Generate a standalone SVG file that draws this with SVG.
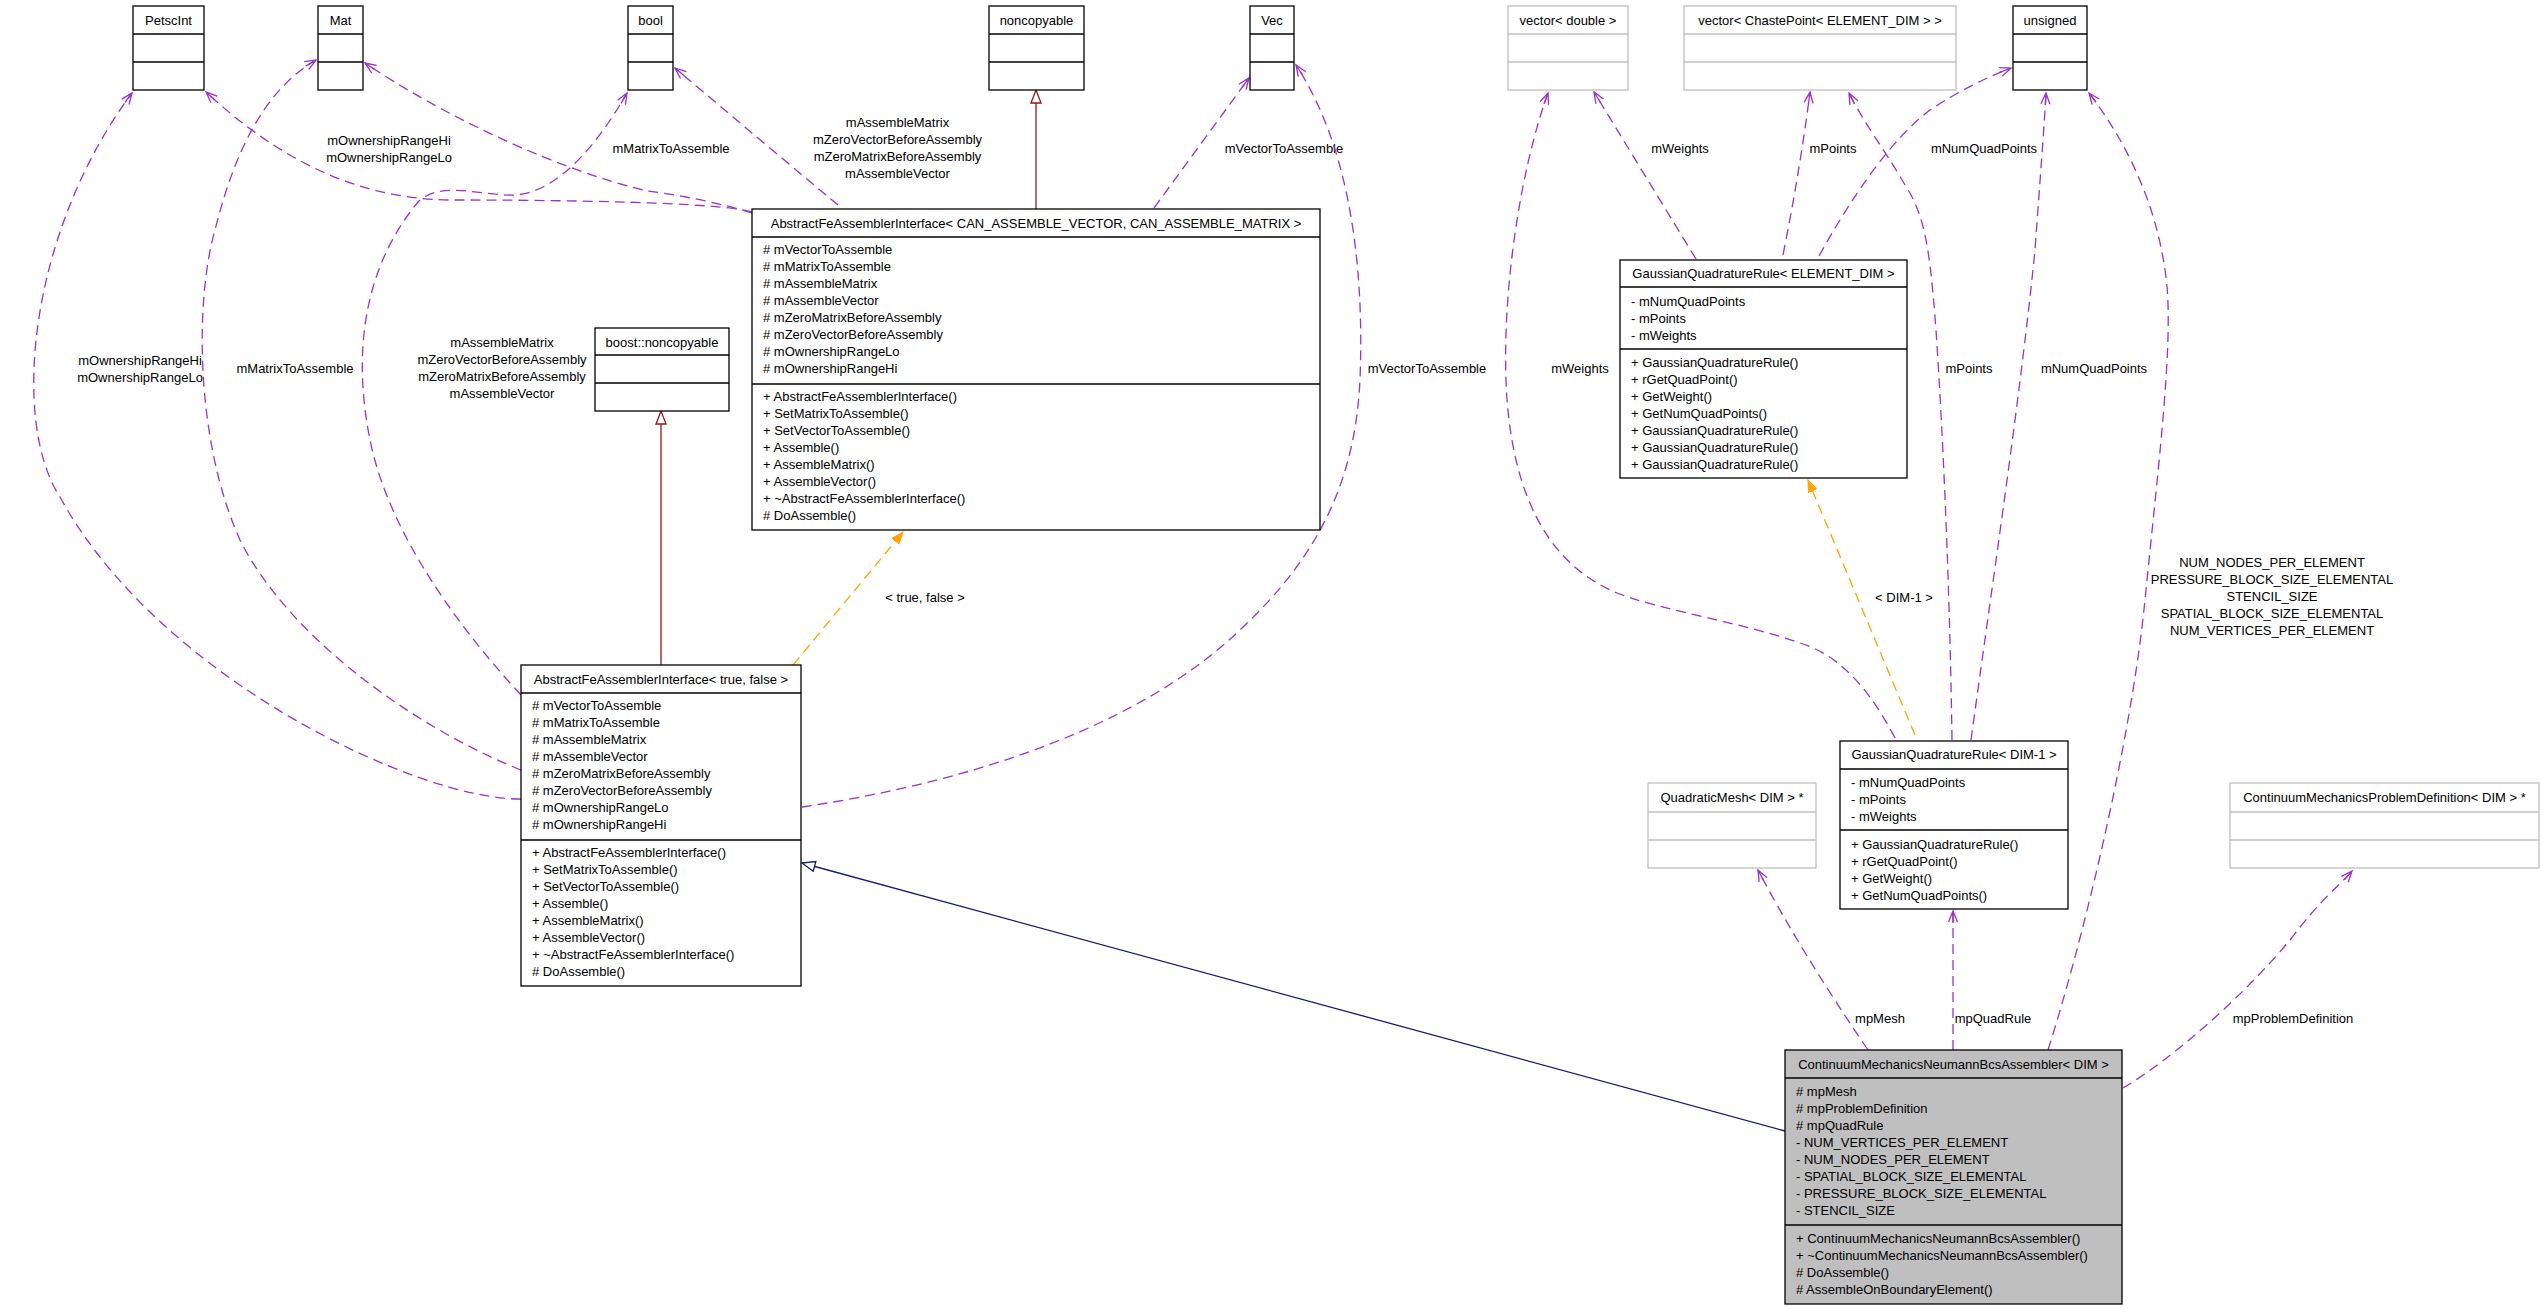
<svg xmlns="http://www.w3.org/2000/svg" width="2543" height="1309" viewBox="0 0 2543 1309">
<style>
text{font-family:"Liberation Sans",Arial,sans-serif;font-size:13px;fill:#000}
.t{text-anchor:middle}
.box{fill:#fff;stroke:#000;stroke-width:1.3}
.gbox{fill:#fff;stroke:#bfbfbf;stroke-width:1.3}
.sbox{fill:#bfbfbf;stroke:#000;stroke-width:1.3}
.div{stroke:#000;stroke-width:1.3}
.gdiv{stroke:#bfbfbf;stroke-width:1.3}
.use{fill:none;stroke:#9a32cd;stroke-width:1.3;stroke-dasharray:10,6;marker-end:url(#open)}
.tpl{fill:none;stroke:#ffa500;stroke-width:1.3;stroke-dasharray:10,6;marker-end:url(#filled)}
.inhB{fill:none;stroke:#191970;stroke-width:1.3;marker-end:url(#triB)}
.inhR{fill:none;stroke:#8b1a1a;stroke-width:1.3;marker-end:url(#triR)}
</style>
<defs>
<marker id="open" markerUnits="userSpaceOnUse" markerWidth="14" markerHeight="12" refX="12" refY="5.5" orient="auto"><path d="M1,1 L12,5.5 L1,10 M0,5.5 L12,5.5" fill="none" stroke="#9a32cd" stroke-width="1.3"/></marker>
<marker id="filled" markerUnits="userSpaceOnUse" markerWidth="14" markerHeight="12" refX="12" refY="5.5" orient="auto"><path d="M0,1 L12,5.5 L0,10 Z" fill="#ffa500" stroke="#ffa500" stroke-width="1"/></marker>
<marker id="triB" markerUnits="userSpaceOnUse" markerWidth="16" markerHeight="14" refX="14" refY="6.5" orient="auto"><path d="M1,1.5 L14,6.5 L1,11.5 Z" fill="#fff" stroke="#191970" stroke-width="1.3"/></marker>
<marker id="triR" markerUnits="userSpaceOnUse" markerWidth="16" markerHeight="14" refX="14" refY="6.5" orient="auto"><path d="M1,1.5 L14,6.5 L1,11.5 Z" fill="#fff" stroke="#8b1a1a" stroke-width="1.3"/></marker>
</defs>
<rect width="2543" height="1309" fill="#fff"/>

<g id="connectors">
<!-- Main -> PetscInt -->
<path class="use" d="M752,212 C720,202 560,200 450,200 C370,199 290,170 206,92"/>
<text class="t" x="389" y="144.5">mOwnershipRangeHi</text>
<text class="t" x="389" y="161.5">mOwnershipRangeLo</text>
<!-- Main -> Mat -->
<path class="use" d="M752,213 C720,203 680,195 647,191 C560,170 450,120 365,63"/>
<text class="t" x="671" y="152.5">mMatrixToAssemble</text>
<!-- Main -> bool -->
<path class="use" d="M838,205 Q760,140 675,68"/>
<text class="t" x="897.5" y="127">mAssembleMatrix</text>
<text class="t" x="897.5" y="144">mZeroVectorBeforeAssembly</text>
<text class="t" x="897.5" y="161">mZeroMatrixBeforeAssembly</text>
<text class="t" x="897.5" y="178">mAssembleVector</text>
<!-- Main -> noncopyable -->
<path class="inhR" d="M1036,209 L1036,90"/>
<!-- Main -> Vec -->
<path class="use" d="M1154,208 L1249,78"/>
<text class="t" x="1284" y="152.5">mVectorToAssemble</text>

<!-- AFAI<true,false> -> PetscInt -->
<path class="use" d="M521,799 C420,800 160,680 60,497 C10,420 30,230 132,93"/>
<text class="t" x="140" y="364.5">mOwnershipRangeHi</text>
<text class="t" x="140" y="381.5">mOwnershipRangeLo</text>
<!-- AFAI<true,false> -> Mat -->
<path class="use" d="M521,770 C420,730 290,640 240,540 C195,440 195,300 215,230 C235,150 265,90 316,60"/>
<text class="t" x="295" y="372.5">mMatrixToAssemble</text>
<!-- AFAI<true,false> -> bool -->
<path class="use" d="M521,695 C470,640 390,540 370,440 C350,340 370,260 418,202 C440,180 480,196 515,195 C560,192 600,140 627,93"/>
<text class="t" x="502" y="346.5">mAssembleMatrix</text>
<text class="t" x="502" y="363.5">mZeroVectorBeforeAssembly</text>
<text class="t" x="502" y="380.5">mZeroMatrixBeforeAssembly</text>
<text class="t" x="502" y="397.5">mAssembleVector</text>
<!-- AFAI<true,false> -> Vec -->
<path class="use" d="M802,807 C950,785 1130,735 1240,630 C1320,555 1355,480 1360,380 C1365,250 1345,140 1296,65"/>
<text class="t" x="1427" y="372.5">mVectorToAssemble</text>
<!-- AFAI<true,false> -> AFAI template -->
<path class="tpl" d="M793,665 L903,532"/>
<text class="t" x="925" y="601.5">&lt; true, false &gt;</text>
<!-- AFAI<true,false> -> boost::noncopyable -->
<path class="inhR" d="M661,665 L661,411"/>

<!-- GQR<ELEMENT_DIM> -> vector<double> -->
<path class="use" d="M1696,259 L1594,92"/>
<text class="t" x="1680" y="152.5">mWeights</text>
<!-- GQR<ELEMENT_DIM> -> vector<ChastePoint> -->
<path class="use" d="M1783,255 Q1800,170 1810,92"/>
<text class="t" x="1833" y="152.5">mPoints</text>
<!-- GQR<ELEMENT_DIM> -> unsigned -->
<path class="use" d="M1819,256 C1850,200 1890,140 1930,110 C1960,90 1990,76 2011,68"/>
<text class="t" x="1984" y="152.5">mNumQuadPoints</text>

<!-- GQR<DIM-1> -> vector<double> -->
<path class="use" d="M1895,738 C1870,690 1840,655 1800,643 C1740,622 1660,610 1617,593 C1550,565 1515,500 1507,400 C1500,300 1520,170 1548,93"/>
<text class="t" x="1580" y="372.5">mWeights</text>
<!-- GQR<DIM-1> -> vector<ChastePoint> -->
<path class="use" d="M1952,740 C1950,600 1944,450 1936,330 C1930,250 1925,215 1905,185 C1885,150 1865,125 1849,93"/>
<text class="t" x="1969" y="372.5">mPoints</text>
<!-- GQR<DIM-1> -> unsigned -->
<path class="use" d="M1971,740 C1990,600 2020,400 2035,250 C2040,180 2044,130 2046,93"/>
<text class="t" x="2094" y="372.5">mNumQuadPoints</text>
<!-- GQR<DIM-1> -> GQR template -->
<path class="tpl" d="M1915,735 L1808,480"/>
<text class="t" x="1904" y="601.5">&lt; DIM-1 &gt;</text>

<!-- CMNBA -> AFAI<true,false> -->
<path class="inhB" d="M1785,1131 L802,863"/>
<!-- CMNBA -> QuadraticMesh -->
<path class="use" d="M1868,1050 Q1800,950 1758,870"/>
<text class="t" x="1880" y="1022.5">mpMesh</text>
<!-- CMNBA -> GQR<DIM-1> -->
<path class="use" d="M1953,1050 L1953,911"/>
<text class="t" x="1993" y="1022.5">mpQuadRule</text>
<!-- CMNBA -> unsigned -->
<path class="use" d="M2048,1050 C2080,950 2130,750 2145,600 C2160,450 2175,330 2165,270 C2155,200 2125,140 2089,93"/>
<text class="t" x="2272" y="566.5">NUM_NODES_PER_ELEMENT</text>
<text class="t" x="2272" y="583.5">PRESSURE_BLOCK_SIZE_ELEMENTAL</text>
<text class="t" x="2272" y="600.5">STENCIL_SIZE</text>
<text class="t" x="2272" y="617.5">SPATIAL_BLOCK_SIZE_ELEMENTAL</text>
<text class="t" x="2272" y="634.5">NUM_VERTICES_PER_ELEMENT</text>
<!-- CMNBA -> ContinuumMechanicsProblemDefinition -->
<path class="use" d="M2123,1088 C2170,1060 2240,1000 2290,940 C2320,900 2340,885 2352,871"/>
<text class="t" x="2293" y="1022.5">mpProblemDefinition</text>
</g>

<g id="PetscInt">
<rect class="box" x="133" y="6" width="71" height="84"/>
<line class="div" x1="133" y1="34" x2="204" y2="34"/><line class="div" x1="133" y1="62" x2="204" y2="62"/>
<text class="t" x="168.5" y="24.5">PetscInt</text>
</g>
<g id="Mat">
<rect class="box" x="318" y="6" width="45" height="84"/>
<line class="div" x1="318" y1="34" x2="363" y2="34"/><line class="div" x1="318" y1="62" x2="363" y2="62"/>
<text class="t" x="340.5" y="24.5">Mat</text>
</g>
<g id="bool">
<rect class="box" x="628" y="6" width="45" height="84"/>
<line class="div" x1="628" y1="34" x2="673" y2="34"/><line class="div" x1="628" y1="62" x2="673" y2="62"/>
<text class="t" x="650.5" y="24.5">bool</text>
</g>
<g id="noncopyable">
<rect class="box" x="989" y="6" width="95" height="84"/>
<line class="div" x1="989" y1="34" x2="1084" y2="34"/><line class="div" x1="989" y1="62" x2="1084" y2="62"/>
<text class="t" x="1036.5" y="24.5">noncopyable</text>
</g>
<g id="Vec">
<rect class="box" x="1250" y="6" width="44" height="84"/>
<line class="div" x1="1250" y1="34" x2="1294" y2="34"/><line class="div" x1="1250" y1="62" x2="1294" y2="62"/>
<text class="t" x="1272" y="24.5">Vec</text>
</g>
<g id="vector_double">
<rect class="gbox" x="1508" y="6" width="120" height="84"/>
<line class="gdiv" x1="1508" y1="34" x2="1628" y2="34"/><line class="gdiv" x1="1508" y1="62" x2="1628" y2="62"/>
<text class="t" x="1568" y="24.5">vector&lt; double &gt;</text>
</g>
<g id="vector_ChastePoint">
<rect class="gbox" x="1684" y="6" width="272" height="84"/>
<line class="gdiv" x1="1684" y1="34" x2="1956" y2="34"/><line class="gdiv" x1="1684" y1="62" x2="1956" y2="62"/>
<text class="t" x="1820" y="24.5">vector&lt; ChastePoint&lt; ELEMENT_DIM &gt; &gt;</text>
</g>
<g id="unsigned">
<rect class="box" x="2013" y="6" width="74" height="84"/>
<line class="div" x1="2013" y1="34" x2="2087" y2="34"/><line class="div" x1="2013" y1="62" x2="2087" y2="62"/>
<text class="t" x="2050" y="24.5">unsigned</text>
</g>
<g id="boost_noncopyable">
<rect class="box" x="595" y="328" width="134" height="83"/>
<line class="div" x1="595" y1="355" x2="729" y2="355"/><line class="div" x1="595" y1="383" x2="729" y2="383"/>
<text class="t" x="662" y="346.5">boost::noncopyable</text>
</g>

<g id="AbstractFeAssemblerInterface_template">
<rect class="box" x="752" y="209" width="568" height="321"/>
<line class="div" x1="752" y1="237" x2="1320" y2="237"/><line class="div" x1="752" y1="384" x2="1320" y2="384"/>
<text class="t" x="1036" y="227.5">AbstractFeAssemblerInterface&lt; CAN_ASSEMBLE_VECTOR, CAN_ASSEMBLE_MATRIX &gt;</text>
<text x="763" y="253.5"># mVectorToAssemble</text>
<text x="763" y="270.5"># mMatrixToAssemble</text>
<text x="763" y="287.5"># mAssembleMatrix</text>
<text x="763" y="304.5"># mAssembleVector</text>
<text x="763" y="321.5"># mZeroMatrixBeforeAssembly</text>
<text x="763" y="338.5"># mZeroVectorBeforeAssembly</text>
<text x="763" y="355.5"># mOwnershipRangeLo</text>
<text x="763" y="372.5"># mOwnershipRangeHi</text>
<text x="763" y="401">+ AbstractFeAssemblerInterface()</text>
<text x="763" y="418">+ SetMatrixToAssemble()</text>
<text x="763" y="435">+ SetVectorToAssemble()</text>
<text x="763" y="452">+ Assemble()</text>
<text x="763" y="469">+ AssembleMatrix()</text>
<text x="763" y="486">+ AssembleVector()</text>
<text x="763" y="503">+ ~AbstractFeAssemblerInterface()</text>
<text x="763" y="520"># DoAssemble()</text>
</g>

<g id="GaussianQuadratureRule_ELEMENT_DIM">
<rect class="box" x="1620" y="260" width="287" height="218"/>
<line class="div" x1="1620" y1="287" x2="1907" y2="287"/><line class="div" x1="1620" y1="349" x2="1907" y2="349"/>
<text class="t" x="1763.5" y="277.5">GaussianQuadratureRule&lt; ELEMENT_DIM &gt;</text>
<text x="1631" y="305.5">- mNumQuadPoints</text>
<text x="1631" y="322.5">- mPoints</text>
<text x="1631" y="339.5">- mWeights</text>
<text x="1631" y="366.5">+ GaussianQuadratureRule()</text>
<text x="1631" y="383.5">+ rGetQuadPoint()</text>
<text x="1631" y="400.5">+ GetWeight()</text>
<text x="1631" y="417.5">+ GetNumQuadPoints()</text>
<text x="1631" y="434.5">+ GaussianQuadratureRule()</text>
<text x="1631" y="451.5">+ GaussianQuadratureRule()</text>
<text x="1631" y="468.5">+ GaussianQuadratureRule()</text>
</g>

<g id="AbstractFeAssemblerInterface_true_false">
<rect class="box" x="521" y="665" width="280" height="321"/>
<line class="div" x1="521" y1="693" x2="801" y2="693"/><line class="div" x1="521" y1="840" x2="801" y2="840"/>
<text class="t" x="661" y="683.5">AbstractFeAssemblerInterface&lt; true, false &gt;</text>
<text x="532" y="709.5"># mVectorToAssemble</text>
<text x="532" y="726.5"># mMatrixToAssemble</text>
<text x="532" y="743.5"># mAssembleMatrix</text>
<text x="532" y="760.5"># mAssembleVector</text>
<text x="532" y="777.5"># mZeroMatrixBeforeAssembly</text>
<text x="532" y="794.5"># mZeroVectorBeforeAssembly</text>
<text x="532" y="811.5"># mOwnershipRangeLo</text>
<text x="532" y="828.5"># mOwnershipRangeHi</text>
<text x="532" y="856.5">+ AbstractFeAssemblerInterface()</text>
<text x="532" y="873.5">+ SetMatrixToAssemble()</text>
<text x="532" y="890.5">+ SetVectorToAssemble()</text>
<text x="532" y="907.5">+ Assemble()</text>
<text x="532" y="924.5">+ AssembleMatrix()</text>
<text x="532" y="941.5">+ AssembleVector()</text>
<text x="532" y="958.5">+ ~AbstractFeAssemblerInterface()</text>
<text x="532" y="975.5"># DoAssemble()</text>
</g>

<g id="GaussianQuadratureRule_DIM-1">
<rect class="box" x="1840" y="741" width="228" height="168"/>
<line class="div" x1="1840" y1="769" x2="2068" y2="769"/><line class="div" x1="1840" y1="830" x2="2068" y2="830"/>
<text class="t" x="1954" y="759">GaussianQuadratureRule&lt; DIM-1 &gt;</text>
<text x="1851" y="786.5">- mNumQuadPoints</text>
<text x="1851" y="803.5">- mPoints</text>
<text x="1851" y="820.5">- mWeights</text>
<text x="1851" y="848.5">+ GaussianQuadratureRule()</text>
<text x="1851" y="865.5">+ rGetQuadPoint()</text>
<text x="1851" y="882.5">+ GetWeight()</text>
<text x="1851" y="899.5">+ GetNumQuadPoints()</text>
</g>

<g id="QuadraticMesh">
<rect class="gbox" x="1648" y="783" width="168" height="85"/>
<line class="gdiv" x1="1648" y1="812" x2="1816" y2="812"/><line class="gdiv" x1="1648" y1="840" x2="1816" y2="840"/>
<text class="t" x="1732" y="802">QuadraticMesh&lt; DIM &gt; *</text>
</g>

<g id="ContinuumMechanicsProblemDefinition">
<rect class="gbox" x="2230" y="783" width="309" height="85"/>
<line class="gdiv" x1="2230" y1="812" x2="2539" y2="812"/><line class="gdiv" x1="2230" y1="840" x2="2539" y2="840"/>
<text class="t" x="2384.5" y="802">ContinuumMechanicsProblemDefinition&lt; DIM &gt; *</text>
</g>

<g id="ContinuumMechanicsNeumannBcsAssembler">
<rect class="sbox" x="1785" y="1050" width="337" height="254"/>
<line class="div" x1="1785" y1="1078" x2="2122" y2="1078"/><line class="div" x1="1785" y1="1225" x2="2122" y2="1225"/>
<text class="t" x="1953.5" y="1068.5">ContinuumMechanicsNeumannBcsAssembler&lt; DIM &gt;</text>
<text x="1796" y="1096"># mpMesh</text>
<text x="1796" y="1113"># mpProblemDefinition</text>
<text x="1796" y="1130"># mpQuadRule</text>
<text x="1796" y="1147">- NUM_VERTICES_PER_ELEMENT</text>
<text x="1796" y="1164">- NUM_NODES_PER_ELEMENT</text>
<text x="1796" y="1181">- SPATIAL_BLOCK_SIZE_ELEMENTAL</text>
<text x="1796" y="1198">- PRESSURE_BLOCK_SIZE_ELEMENTAL</text>
<text x="1796" y="1215">- STENCIL_SIZE</text>
<text x="1796" y="1242.5">+ ContinuumMechanicsNeumannBcsAssembler()</text>
<text x="1796" y="1259.5">+ ~ContinuumMechanicsNeumannBcsAssembler()</text>
<text x="1796" y="1276.5"># DoAssemble()</text>
<text x="1796" y="1293.5"># AssembleOnBoundaryElement()</text>
</g>
</svg>
